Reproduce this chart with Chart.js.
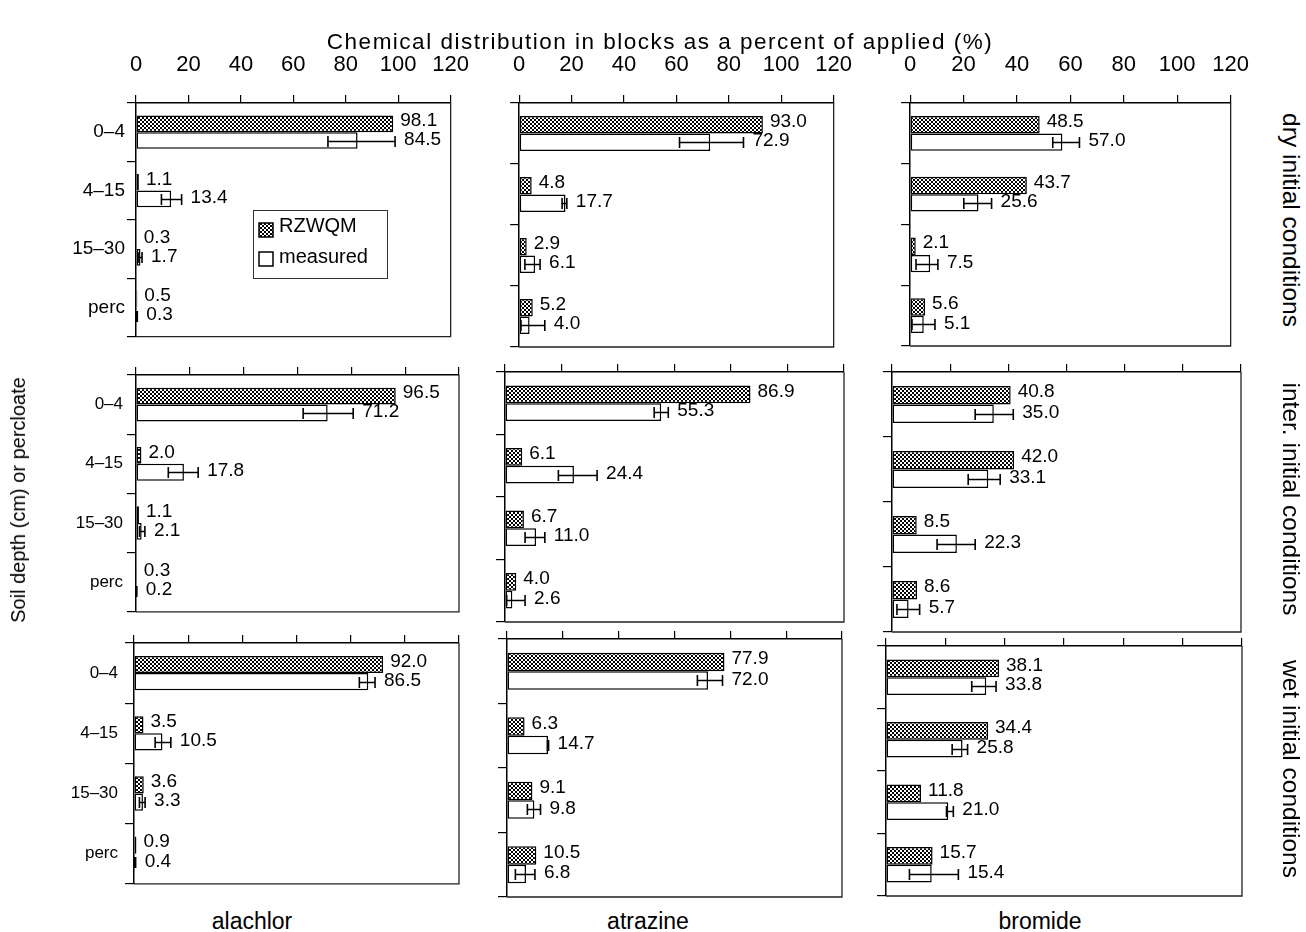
<!DOCTYPE html>
<html>
<head>
<meta charset="utf-8">
<script src="https://cdn.jsdelivr.net/npm/chart.js@4.4.1/dist/chart.umd.min.js"></script>
<style>
  body { margin: 0; background: #fff; }
  #wrap { position: relative; width: 1306px; height: 932px; font-family: "Liberation Sans", Arial, sans-serif; color: #000; }
  #wrap canvas { position: absolute; }
  .lbl { position: absolute; white-space: nowrap; line-height: 1; }
</style>
</head>
<body>
<div id="wrap"></div>
<script>
// DATA
const depths = ["0–4", "4–15", "15–30", "perc"];
const chemicals = ["alachlor", "atrazine", "bromide"];
const conditions = ["dry initial conditions", "inter. initial conditions", "wet initial conditions"];
const seriesNames = ["RZWQM", "measured"];
const xMax = 120, xStep = 20;

// one inner list per chemical (alachlor, atrazine, bromide), values per depth
const rzwqmDry = [[98.1, 1.1, 0.3, 0.5], [93.0, 4.8, 2.9, 5.2], [48.5, 43.7, 2.1, 5.6]];
const measuredDry = [[84.5, 13.4, 1.7, 0.3], [72.9, 17.7, 6.1, 4.0], [57.0, 25.6, 7.5, 5.1]];
const errLowDry = [[73.2, 9.7, 0.8, 0.1], [61.2, 16.4, 2.2, 0.7], [53.4, 20.1, 2.2, 0.7]];
const errHighDry = [[98.8, 17.4, 2.3, 0.5], [85.6, 18.2, 8.0, 9.8], [63.4, 30.5, 10.4, 9.3]];

const rzwqmInter = [[96.5, 2.0, 1.1, 0.3], [86.9, 6.1, 6.7, 4.0], [40.8, 42.0, 8.5, 8.6]];
const measuredInter = [[71.2, 17.8, 2.1, 0.2], [55.3, 24.4, 11.0, 2.6], [35.0, 33.1, 22.3, 5.7]];
const errLowInter = [[62.1, 12.0, 1.3, 0.1], [52.8, 18.9, 7.1, 0.6], [28.6, 26.2, 15.5, 1.7]];
const errHighInter = [[80.7, 23.1, 3.3, 0.3], [57.8, 32.6, 14.1, 7.1], [41.7, 37.2, 28.6, 9.5]];

const rzwqmWet = [[92.0, 3.5, 3.6, 0.9], [77.9, 6.3, 9.1, 10.5], [38.1, 34.4, 11.8, 15.7]];
const measuredWet = [[86.5, 10.5, 3.3, 0.4], [72.0, 14.7, 9.8, 6.8], [33.8, 25.8, 21.0, 15.4]];
const errLowWet = [[83.2, 7.8, 2.0, 0.2], [68.2, 14.5, 7.3, 3.0], [28.9, 22.3, 20.4, 7.9]];
const errHighWet = [[89.0, 13.6, 4.1, 0.6], [77.2, 14.9, 12.0, 10.0], [37.1, 27.5, 22.7, 24.4]];

const rzwqmRows = [rzwqmDry, rzwqmInter, rzwqmWet];
const measuredRows = [measuredDry, measuredInter, measuredWet];
const errLowRows = [errLowDry, errLowInter, errLowWet];
const errHighRows = [errHighDry, errHighInter, errHighWet];

// LAYOUT: plot box of each panel [left, top, right, bottom]
const panelBoxes = [
  [[136, 103, 456, 347], [510, 103, 839, 347], [901, 103, 1236, 346]],
  [[136, 375, 459, 623], [505, 372, 844, 622], [892, 372, 1241, 632]],
  [[134, 643, 459, 898], [507, 639, 842, 897], [886, 646, 1242, 896]]
];

const FONT = "'Liberation Sans', Arial, sans-serif";
Chart.defaults.font.family = FONT;
Chart.defaults.color = "#000";

const wrap = document.getElementById("wrap");

function makeHatch() {
  const c = document.createElement("canvas");
  c.width = 4; c.height = 4;
  const g = c.getContext("2d");
  g.fillStyle = "#fff";
  g.fillRect(0, 0, 4, 4);
  g.fillStyle = "#000";
  g.fillRect(0, 0, 2, 2);
  g.fillRect(2, 2, 2, 2);
  return g.createPattern(c, "repeat");
}
const hatch = makeHatch();

function addText(txt, x, y, size, rot, spacing) {
  const d = document.createElement("div");
  d.className = "lbl";
  d.textContent = txt;
  d.style.fontSize = size + "px";
  if (spacing) d.style.letterSpacing = spacing + "px";
  d.style.left = x + "px";
  d.style.top = y + "px";
  d.style.transform = "translate(-50%,-50%)" + (rot ? " rotate(" + rot + "deg)" : "");
  wrap.appendChild(d);
}

// error bars, value labels and legend
function overlay(lo, hi, showLegend) {
  return {
    id: "overlay",
    afterDatasetsDraw(chart) {
      const ctx = chart.ctx;
      const xs = chart.scales.x;
      const m0 = chart.getDatasetMeta(0), m1 = chart.getDatasetMeta(1);
      const rz = chart.data.datasets[0].data, ms = chart.data.datasets[1].data;
      ctx.save();
      ctx.strokeStyle = "#000";
      ctx.lineWidth = 1.6;
      m1.data.forEach((bar, i) => {
        const a = xs.getPixelForValue(lo[i]), b = xs.getPixelForValue(hi[i]);
        const y = Math.round(bar.y) + 0.5;
        ctx.beginPath();
        ctx.moveTo(a, y); ctx.lineTo(b, y);
        ctx.moveTo(a, y - 5.5); ctx.lineTo(a, y + 5.5);
        ctx.moveTo(b, y - 5.5); ctx.lineTo(b, y + 5.5);
        ctx.stroke();
      });
      ctx.fillStyle = "#000";
      ctx.font = "19px " + FONT;
      ctx.textBaseline = "middle";
      ctx.textAlign = "left";
      m0.data.forEach((bar, i) => {
        ctx.fillText(rz[i].toFixed(1), bar.x + 7, bar.y - 3);
      });
      m1.data.forEach((bar, i) => {
        const end = Math.max(bar.x, xs.getPixelForValue(hi[i]));
        ctx.fillText(ms[i].toFixed(1), end + 9, bar.y - 1);
      });
      if (showLegend) {
        const L = chart.chartArea.left + 117, T = chart.chartArea.top + 107;
        ctx.lineWidth = 1;
        ctx.strokeStyle = "#333";
        ctx.strokeRect(L + 0.5, T + 0.5, 134, 68);
        ctx.lineWidth = 1.5;
        ctx.strokeStyle = "#000";
        ctx.fillStyle = hatch;
        ctx.fillRect(L + 6, T + 13, 14, 14);
        ctx.strokeRect(L + 6, T + 13, 14, 14);
        ctx.fillStyle = "#fff";
        ctx.fillRect(L + 6, T + 42, 14, 14);
        ctx.strokeRect(L + 6, T + 42, 14, 14);
        ctx.fillStyle = "#000";
        ctx.font = "20px " + FONT;
        ctx.fillText(seriesNames[0], L + 26, T + 16);
        ctx.fillText(seriesNames[1], L + 26, T + 47);
      }
      ctx.restore();
    },
    afterDraw(chart) {
      const a = chart.chartArea, ctx = chart.ctx;
      ctx.save();
      ctx.strokeStyle = "#222";
      ctx.lineWidth = 1.3;
      ctx.beginPath();
      ctx.moveTo(a.right, a.top);
      ctx.lineTo(a.right, a.bottom);
      ctx.lineTo(a.left, a.bottom);
      ctx.stroke();
      ctx.restore();
    }
  };
}

function makePanel(row, col) {
  const box = panelBoxes[row][col];
  const yw = col === 0 ? 130 : 14;
  const xh = 50, padR = 30, padB = 3;
  const cv = document.createElement("canvas");
  const w = box[2] - box[0] + yw + padR;
  const h = box[3] - box[1] + xh + padB;
  cv.width = w; cv.height = h;
  cv.style.left = (box[0] - yw) + "px";
  cv.style.top = (box[1] - xh) + "px";
  cv.style.width = w + "px";
  cv.style.height = h + "px";
  wrap.appendChild(cv);

  new Chart(cv, {
    type: "bar",
    data: {
      labels: depths,
      datasets: [
        { label: seriesNames[0], data: rzwqmRows[row][col], backgroundColor: hatch,
          borderColor: "#000", borderWidth: 1.5, borderSkipped: false,
          categoryPercentage: 0.57, barPercentage: 1 },
        { label: seriesNames[1], data: measuredRows[row][col], backgroundColor: "#fff",
          borderColor: "#000", borderWidth: 1.5, borderSkipped: false,
          categoryPercentage: 0.57, barPercentage: 1 }
      ]
    },
    options: {
      indexAxis: "y",
      responsive: false,
      animation: false,
      devicePixelRatio: 1,
      layout: { autoPadding: false, padding: { left: 0, top: 0, right: padR, bottom: padB } },
      plugins: { legend: { display: false }, tooltip: { enabled: false } },
      scales: {
        x: {
          type: "linear", position: "top", min: 0, max: xMax,
          ticks: { stepSize: xStep, display: row === 0, font: { size: 22 }, padding: 17, maxRotation: 0 },
          grid: { drawOnChartArea: false, tickLength: 8, color: "#000", lineWidth: 1.2 },
          border: { color: "#000", width: 1.5 },
          afterFit: s => { s.height = xh; }
        },
        y: {
          type: "category", position: "left",
          ticks: { display: col === 0, font: { size: row === 0 ? 19 : 17 }, padding: [2, 4, 7][row] },
          grid: { drawOnChartArea: false, tickLength: 9, offset: true, color: "#000", lineWidth: 1.2 },
          border: { color: "#000", width: 1.5 },
          afterFit: s => { s.width = yw; }
        }
      }
    },
    plugins: [overlay(errLowRows[row][col], errHighRows[row][col], row === 0 && col === 0)]
  });
}

for (let r = 0; r < 3; r++) {
  for (let c = 0; c < 3; c++) makePanel(r, c);
}

// TEXT
addText("Chemical distribution in blocks as a percent of applied (%)", 660, 42, 22.5, 0, 1.5);
addText("Soil depth (cm) or percloate", 18, 500, 20, -90);
const rowCentres = [220, 499, 769];
conditions.forEach((t, i) => addText(t, 1291, rowCentres[i], 24.5, 90));
const colCentres = [252, 648, 1040];
chemicals.forEach((t, i) => addText(t, colCentres[i], 921, 23));
</script>
</body>
</html>
